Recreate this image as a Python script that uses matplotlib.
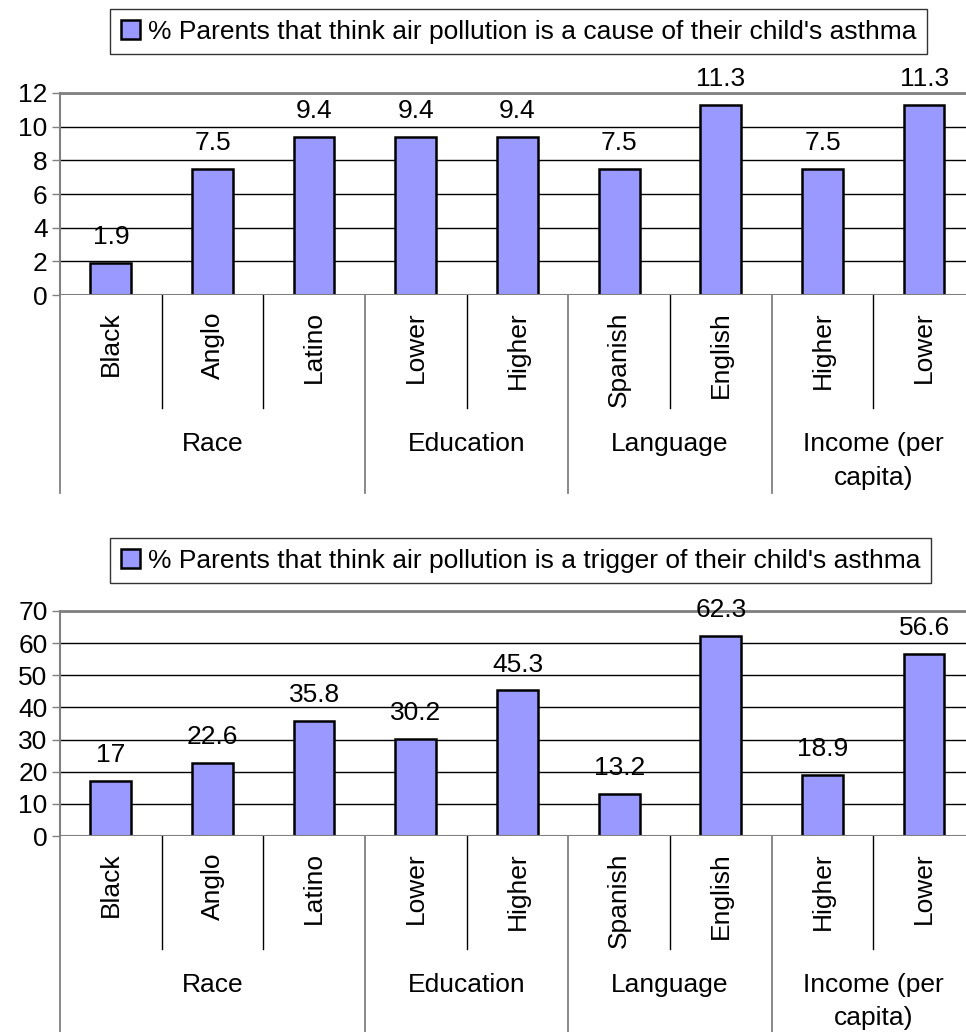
import matplotlib
matplotlib.use("Agg")
import matplotlib.pyplot as plt
from matplotlib.patches import Patch
from matplotlib.transforms import blended_transform_factory

plt.rcParams['font.family'] = ['Liberation Sans', 'DejaVu Sans']

# data
categories = ["Black", "Anglo", "Latino", "Lower", "Higher", "Spanish", "English", "Higher", "Lower"]
groups = ["Race", "Education", "Language", "Income (per\ncapita)"]
group_sizes = [3, 2, 2, 2]
cause_values = [1.9, 7.5, 9.4, 9.4, 9.4, 7.5, 11.3, 7.5, 11.3]
trigger_values = [17, 22.6, 35.8, 30.2, 45.3, 13.2, 62.3, 18.9, 56.6]
cause_label = "% Parents that think air pollution is a cause of their child's asthma"
trigger_label = "% Parents that think air pollution is a trigger of their child's asthma"

W, H = 966, 1032
BAR_COLOR = "#9999ff"
FS = 19

fig = plt.figure(figsize=(W / 100, H / 100), dpi=100)


def px_axes(left, top, right, bottom):
    return fig.add_axes([left / W, 1 - bottom / H, (right - left) / W, (bottom - top) / H])


def draw_chart(ax, values, ymax, step, label, legend_top):
    x = list(range(len(values)))
    ax.bar(x, values, width=0.4, color=BAR_COLOR, edgecolor="black", linewidth=1.8, zorder=3)
    ax.set_xlim(-0.5, len(values) - 0.5)
    ax.set_ylim(0, ymax)
    ax.set_yticks(range(0, ymax + 1, step))
    ax.yaxis.grid(True, color="black", linewidth=1)
    ax.set_axisbelow(True)
    ax.set_xticks([])
    ax.tick_params(axis="y", labelsize=FS, length=6, width=1, color="#808080", pad=3)
    for s in ["right", "bottom"]:
        ax.spines[s].set_visible(False)
    ax.spines["left"].set_color("#808080")
    ax.spines["left"].set_linewidth(1.5)
    ax.spines["top"].set_color("#808080")
    ax.spines["top"].set_linewidth(2)
    ax.axhline(0, color="#808080", linewidth=1.5, zorder=4)

    for xi, v in zip(x, values):
        ax.annotate(f"{v:g}", (xi, v), xytext=(0, 10), textcoords="offset points",
                    ha="center", va="bottom", fontsize=FS)

    # category axis below the plot
    h_px = ax.get_position().height * H
    tr = blended_transform_factory(ax.transData, ax.transAxes)
    short, long_ = -113 / h_px, -198 / h_px
    bounds = [-0.5]
    for g in group_sizes:
        bounds.append(bounds[-1] + g)
    for b in range(len(values) + 1):
        edge = b - 0.5
        if edge in bounds:
            ax.plot([edge, edge], [0, long_], transform=tr, color="#808080", lw=1.3, clip_on=False)
        else:
            ax.plot([edge, edge], [0, short], transform=tr, color="black", lw=1, clip_on=False)
    for xi, c in zip(x, categories):
        ax.text(xi, -16 / h_px, c, rotation=90, ha="center", va="top", fontsize=FS,
                transform=tr)
    for i, g in enumerate(groups):
        cx = (bounds[i] + bounds[i + 1]) / 2
        ax.text(cx, -137 / h_px, g, ha="center", va="top", fontsize=FS,
                transform=tr, linespacing=1.5)

    handle = Patch(facecolor=BAR_COLOR, edgecolor="black", linewidth=1.8)
    leg = fig.legend([handle], [label], loc="upper left",
                     bbox_to_anchor=(110 / W, 1 - legend_top / H),
                     fontsize=FS, frameon=True, fancybox=False, borderpad=0.4,
                     handlelength=0.75, handleheight=0.75, handletextpad=0.3,
                     borderaxespad=0)
    leg.get_frame().set_edgecolor("black")
    leg.get_frame().set_linewidth(1)


ax1 = px_axes(60, 93, 975, 295)
draw_chart(ax1, cause_values, 12, 2, cause_label, 9)

ax2 = px_axes(60, 611, 975, 836)
draw_chart(ax2, trigger_values, 70, 10, trigger_label, 538)

fig.savefig("out.png", dpi=100)
